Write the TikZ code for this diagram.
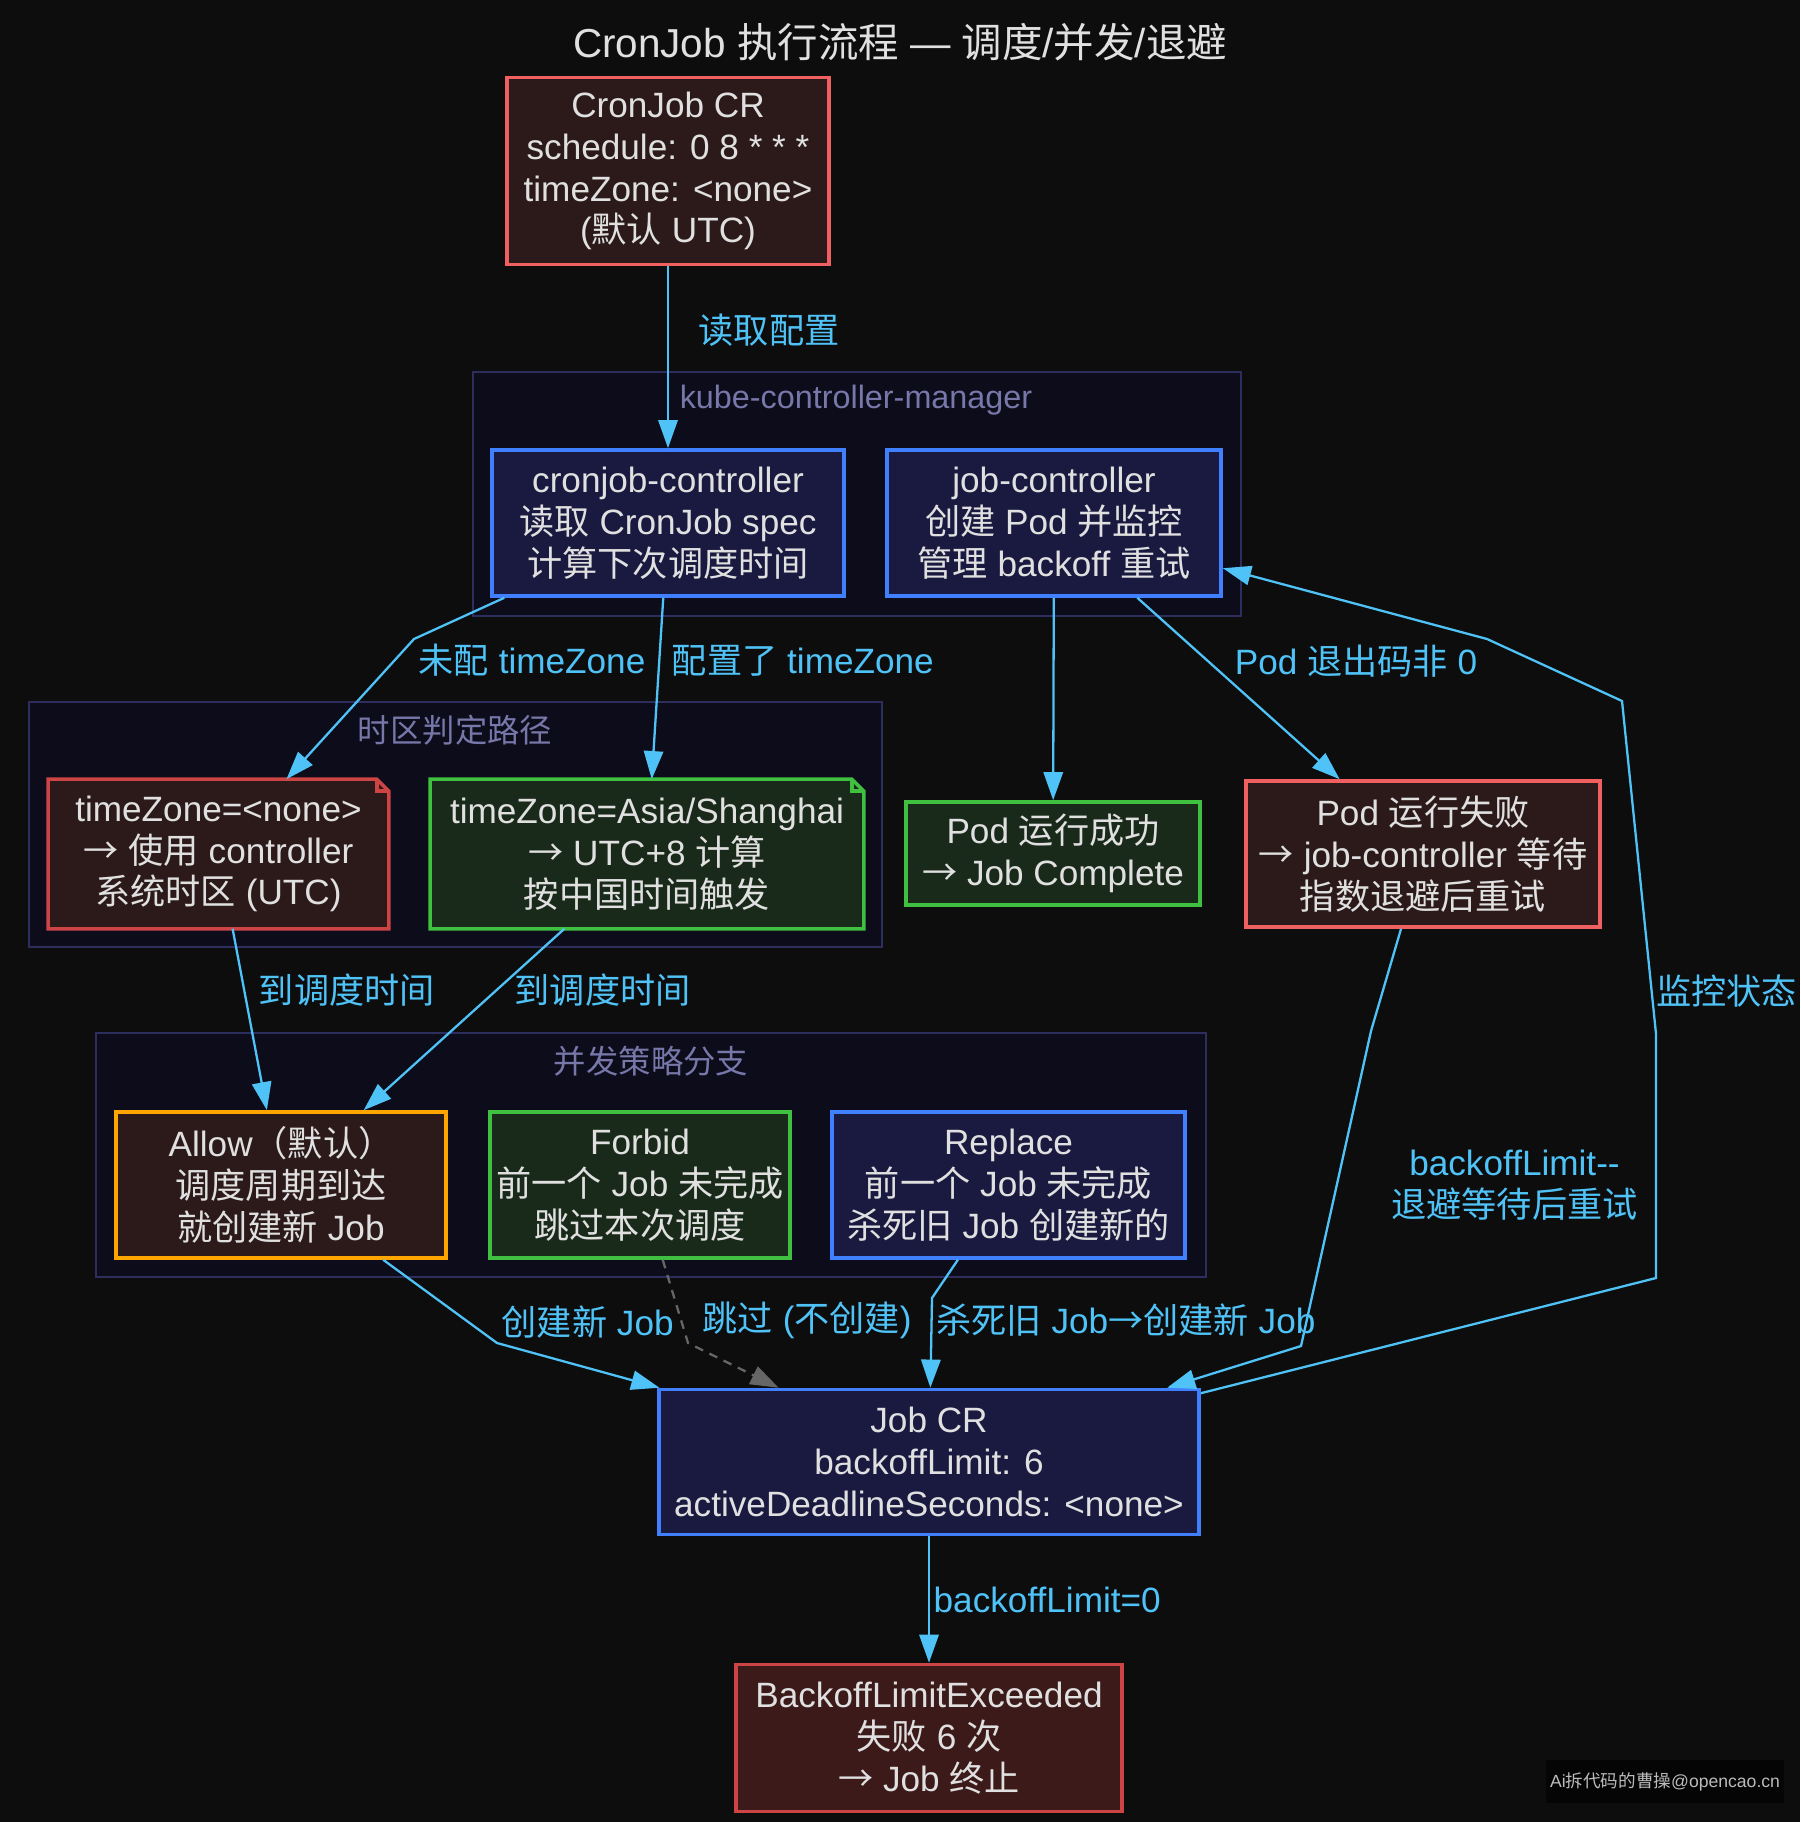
\documentclass[tikz,border=0pt]{standalone}
\usepackage{fontspec}
\setmainfont{Liberation Sans}
\newfontfamily\cjk{Noto Sans CJK SC}
\usetikzlibrary{arrows.meta,positioning}

% CJK characters switch to the CJK family by themselves
\XeTeXinterchartokenstate=1
\newXeTeXintercharclass\cjkclass
\newcount\cjkcnt
\cjkcnt="4E00
\loop \XeTeXcharclass\cjkcnt=\cjkclass \ifnum\cjkcnt<"9FFF \advance\cjkcnt by 1 \repeat
\XeTeXcharclass"FF08=\cjkclass
\XeTeXcharclass"FF09=\cjkclass
\XeTeXcharclass"2192=\cjkclass
\XeTeXinterchartoks 0 \cjkclass={\begingroup\cjk}
\XeTeXinterchartoks 4095 \cjkclass={\begingroup\cjk}
\XeTeXinterchartoks \cjkclass 0={\endgroup}
\XeTeXinterchartoks \cjkclass 4095={\endgroup}

\definecolor{bgc}{HTML}{0D0D0D}
\definecolor{txt}{HTML}{E0E0E0}
\definecolor{flowc}{HTML}{4FC3F7}
\definecolor{dashc}{HTML}{666666}
\definecolor{clfill}{HTML}{0C0C1A}
\definecolor{clline}{HTML}{2E2E5E}
\definecolor{cltext}{HTML}{7777AA}
\definecolor{redc}{HTML}{F06060}
\definecolor{redfill}{HTML}{2C1A1A}
\definecolor{darkred}{HTML}{CC4444}
\definecolor{failfill}{HTML}{3D1A1A}
\definecolor{bluec}{HTML}{4080FF}
\definecolor{bluefill}{HTML}{1A1A40}
\definecolor{greenc}{HTML}{40C040}
\definecolor{greenfill}{HTML}{1A2A1A}
\definecolor{orangec}{HTML}{FFA500}
\definecolor{wmbg}{HTML}{050505}
\definecolor{wmtext}{HTML}{BBBBBB}

\newcommand{\nodefont}{\fontsize{10pt}{11.9pt}\selectfont}
% note shape with folded corner
\newcommand{\notefold}[2]{%
  \fill[clfill] ([xshift=-0.12cm]#1.north east) -- (#1.north east) -- ([yshift=-0.12cm]#1.north east) -- cycle;
  \draw[#2, line width=1pt] (#1.north west) -- ([xshift=-0.12cm]#1.north east) -- ([yshift=-0.12cm]#1.north east) -- (#1.south east) -- (#1.south west) -- cycle;
  \draw[#2, line width=1pt] ([xshift=-0.12cm]#1.north east) |- ([yshift=-0.12cm]#1.north east);
}

\begin{document}
\begin{tikzpicture}[x=0.01cm, y=-0.01cm, >={Triangle[length=8pt,width=5.5pt]},
  box/.style={draw, line width=1pt, align=center, font=\nodefont, text=txt, inner sep=0pt},
  redbox/.style={box, draw=redc, fill=redfill},
  bluebox/.style={box, draw=bluec, fill=bluefill},
  greenbox/.style={box, draw=greenc, fill=greenfill},
  orangebox/.style={box, draw=orangec, fill=redfill},
  stopbox/.style={box, draw=darkred, fill=failfill},
  notebox/.style={box, draw=none},
  flow/.style={->, draw=flowc, line width=0.65pt},
  lbl/.style={font=\nodefont, text=flowc, inner sep=1pt, align=center},
  cluster/.style={draw=clline, fill=clfill, line width=0.6pt},
  cltitle/.style={font=\fontsize{9.2pt}{11pt}\selectfont, text=cltext}]

\fill[bgc] (0,0) rectangle (1800,1822);
\useasboundingbox (0,0) rectangle (1800,1822);

\node[font=\fontsize{11.5pt}{13pt}\selectfont, text=txt] (title) at (900,42) {CronJob 执行流程 — 调度/并发/退避};

% clusters
\draw[cluster] (473,372) rectangle (1241,616);
\node[cltitle] (kcmlabel) at (856,400) {kube-controller-manager};
\draw[cluster] (29,702) rectangle (882,947);
\node[cltitle] (tzlabel) at (455,730) {时区判定路径};
\draw[cluster] (96,1033) rectangle (1206,1277);
\node[cltitle] (cclabel) at (651,1061) {并发策略分支};

% nodes
\node[redbox, minimum width=3.22cm, minimum height=1.87cm] (cron) at (668,171) {CronJob CR\\schedule: 0 8 * * *\\timeZone: <none>\\(默认 UTC)};
\node[bluebox, minimum width=3.52cm, minimum height=1.46cm] (cjc) at (668,523) {cronjob-controller\\读取 CronJob spec\\计算下次调度时间};
\node[bluebox, minimum width=3.34cm, minimum height=1.46cm] (jc) at (1054,523) {job-controller\\创建 Pod 并监控\\管理 backoff 重试};
\node[notebox, fill=redfill, minimum width=3.37cm, minimum height=1.46cm] (tznone) at (218.5,854) {timeZone=<none>\\→ 使用 controller\\系统时区 (UTC)};
\notefold{tznone}{darkred}
\node[notebox, fill=greenfill, minimum width=4.30cm, minimum height=1.46cm] (tzsh) at (647,854) {timeZone=Asia/Shanghai\\→ UTC+8 计算\\按中国时间触发};
\notefold{tzsh}{greenc}
\node[greenbox, minimum width=2.94cm, minimum height=1.03cm] (podok) at (1053,853.5) {Pod 运行成功\\→ Job Complete};
\node[redbox, minimum width=3.54cm, minimum height=1.46cm] (podfail) at (1423,854) {Pod 运行失败\\→ job-controller 等待\\指数退避后重试};
\node[orangebox, minimum width=3.30cm, minimum height=1.46cm] (allow) at (281,1185) {Allow（默认）\\调度周期到达\\就创建新 Job};
\node[greenbox, minimum width=3.00cm, minimum height=1.46cm] (forbid) at (640,1185) {Forbid\\前一个 Job 未完成\\跳过本次调度};
\node[bluebox, minimum width=3.53cm, minimum height=1.46cm] (replace) at (1008.5,1185) {Replace\\前一个 Job 未完成\\杀死旧 Job 创建新的};
\node[bluebox, minimum width=5.40cm, minimum height=1.45cm] (job) at (929,1462) {Job CR\\backoffLimit: 6\\activeDeadlineSeconds: <none>};
\node[stopbox, minimum width=3.86cm, minimum height=1.47cm] (exceeded) at (929,1738) {BackoffLimitExceeded\\失败 6 次\\→ Job 终止};

% edges
\draw[flow] (cron) -- node[lbl, right=0.26cm, pos=.35] {读取配置} (cjc);
\draw[flow] (cjc) -- (414,639) node[lbl, anchor=north west] {未配 timeZone} -- (tznone);
\draw[flow] (cjc) -- node[lbl, right=0.08cm, pos=.35] {配置了 timeZone} (tzsh);
\draw[flow] (jc) -- (podok);
\draw[flow] (jc) -- node[lbl, right=0.22cm, pos=.35] {Pod 退出码非 0} (podfail);
\draw[flow] (tznone) -- node[lbl, right=0.1cm, pos=.34] {到调度时间} (allow);
\draw[flow] (tzsh) -- node[lbl, right=0.14cm, pos=.34] {到调度时间} (allow);
\draw[flow] (allow) -- (497,1343) node[lbl, anchor=south west] {创建新 Job} -- (job);
\draw[flow, draw=dashc, dash pattern=on 2.5pt off 2pt] (forbid) -- (688,1343) node[lbl, anchor=south west, xshift=0.1cm] {跳过 (不创建)} -- (job);
\draw[flow] (replace) -- (932,1298) -- node[lbl, anchor=west, pos=.25] {杀死旧 Job→创建新 Job} (job);
\draw[flow] (podfail) -- (1371,1031) -- node[lbl, right=0.5cm, pos=.49] {backoffLimit-{}-\\退避等待后重试} (1301,1346) -- (job);
\draw[flow] (job) -- (1656,1278) -- (1656,1034) -- node[lbl, anchor=west, pos=.13] {监控状态} (1622,701) -- (1487,639) -- (jc);
\draw[flow] (job) -- node[lbl, right=0pt, pos=.5] {backoffLimit=0} (exceeded);

% watermark
\node[fill=wmbg, text=wmtext, font=\fontsize{5pt}{6pt}\selectfont, inner sep=0pt, minimum width=2.38cm, minimum height=0.43cm] (mark) at (1665,1781.5) {Ai拆代码的曹操@opencao.cn};
\end{tikzpicture}
\end{document}
